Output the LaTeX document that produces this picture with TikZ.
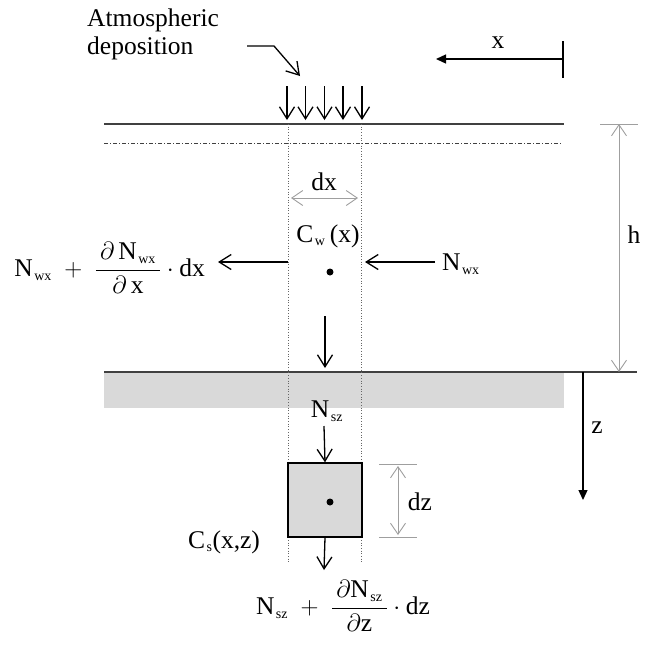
\documentclass[tikz,border=0pt]{standalone}
\usepackage{amsmath}
\usepackage{fontspec}
\setmainfont{Liberation Serif}
\DeclareMathSizes{25.5}{25.5}{14}{11}
\newcommand{\sub}[1]{_{\kern1.5pt\text{#1}}}
\usetikzlibrary{arrows.meta}

\begin{document}
\begin{tikzpicture}[
  x=1pt, y=-1pt,
  font=\fontsize{25.5}{28}\selectfont,
  flux/.style={-{Straight Barb[length=12pt,width=15pt]}, line width=1.3pt},
  axis/.style={-{Triangle[length=10pt,width=9pt]}, line width=1.3pt},
  dim/.style={{Straight Barb[length=11pt,width=15pt]}-{Straight Barb[length=11pt,width=15pt]}, draw=gray!75, line width=0.9pt},
  tick/.style={draw=gray!75, line width=0.9pt},
  level/.style={draw=black!75, line width=1.1pt},
  column/.style={draw=gray!80!black, dotted, line width=0.7pt},
  lbl/.style={inner sep=1pt}
]
\useasboundingbox (0,0) rectangle (649,649);

% water column and sediment
\fill[gray!30] (104,372) rectangle (564,408);
\coordinate (surfL) at (104,124);  \coordinate (surfR) at (564,124);
\coordinate (mixL) at (104,143);   \coordinate (mixR) at (562,143);
\coordinate (bedL) at (104,372);   \coordinate (bedR) at (637,372);
\draw[level] (surfL) -- (surfR);
\draw[level, line width=0.8pt, dash pattern=on 4pt off 2pt on 1pt off 2pt] (mixL) -- (mixR);
\draw[level] (bedL) -- (bedR);

% column borders
\coordinate (colLt) at (288,124);  \coordinate (colLb) at (288,563);
\coordinate (colRt) at (361,124);  \coordinate (colRb) at (361,563);
\draw[column] (colLt) -- (colLb);
\draw[column] (colRt) -- (colRb);

% atmospheric deposition
\node[lbl, align=left, anchor=west] (deplbl) at (86,34) {Atmospheric\\deposition};
\coordinate (dep0) at (247,46);
\coordinate (dep1) at (274,46);
\coordinate (dep2) at (300,76);
\draw[flux] (dep0) -- (dep1) -- (dep2);
\foreach \i/\xx in {1/287,2/305.5,3/324.5,4/343,5/362}{
  \coordinate (rain\i) at (\xx,86);
  \coordinate (drop\i) at (\xx,120);
  \draw[flux] (rain\i) -- (drop\i);
}

% x axis
\coordinate (xo) at (563,59);  \coordinate (xe) at (436,59);
\coordinate (xt1) at (563,41); \coordinate (xt2) at (563,78);
\draw[line width=1.3pt] (xt1) -- (xt2);
\draw[axis] (xo) -- (xe);
\node[lbl] (xlbl) at (498,43) {x};

% depth h
\coordinate (ht1) at (600,124); \coordinate (ht2) at (638,124);
\coordinate (htop) at (619,124); \coordinate (hbot) at (619,372);
\draw[tick] (ht1) -- (ht2);
\draw[dim] (htop) -- (hbot);
\node[lbl] (hlbl) at (634,235) {h};

% z axis
\coordinate (zo) at (583,372); \coordinate (ze) at (583,500);
\draw[axis] (zo) -- (ze);
\node[lbl] (zlbl) at (597,428) {z};

% width dx
\coordinate (dxL) at (291,198); \coordinate (dxR) at (358,198);
\draw[dim] (dxL) -- (dxR);
\node[lbl] (dxlbl) at (324,182) {dx};

% water concentration and lateral fluxes
\node[lbl] (cw) at (328,236) {C$\sub{w}$\,(x)};
\node[circle, fill, inner sep=0pt, minimum size=7pt] (cwdot) at (330,272) {};
\coordinate (inR) at (435,262);  \coordinate (inRe) at (365,262);
\coordinate (outL) at (288,262); \coordinate (outLe) at (218,262);
\draw[flux] (inR) -- (inRe);
\draw[flux] (outL) -- (outLe);
\node[lbl, anchor=west] (nwx) at (441,264) {N$\sub{wx}$};
\node[lbl, anchor=east] (nwxout) at (206,268)
  {$\text{N}\sub{wx}\;+\;\dfrac{\,\partial\,\text{N}\sub{wx}\,}{\partial\,\text{x}}\cdot\text{dx}$};

% settling to the bed
\coordinate (set1) at (325,316); \coordinate (set2) at (325,368);
\draw[flux] (set1) -- (set2);

% sediment cell
\node[lbl] (nsz) at (327,411) {N$\sub{sz}$};
\node[draw, fill=gray!30, line width=1.3pt, minimum size=74pt, inner sep=0pt] (cell) at (325,500) {};
\node[circle, fill, inner sep=0pt, minimum size=7pt] (csdot) at (330,502) {};
\coordinate (szin) at (324,426);
\draw[flux] (szin) -- (cell.north);
\coordinate (szout) at (324,570);
\draw[flux] (cell.south) -- (szout);
\node[lbl] (cs) at (224,542) {C$\sub{s}$(x,z)};

% thickness dz
\coordinate (dzt1) at (379,464); \coordinate (dzt2) at (417,464);
\coordinate (dzb1) at (379,537); \coordinate (dzb2) at (417,537);
\coordinate (dztop) at (398,466); \coordinate (dzbot) at (398,535);
\draw[tick] (dzt1) -- (dzt2);
\draw[tick] (dzb1) -- (dzb2);
\draw[dim] (dztop) -- (dzbot);
\node[lbl] (dzlbl) at (420,502) {dz};

\node[lbl] (nszout) at (343,606)
  {$\text{N}\sub{sz}\;+\;\dfrac{\,\partial\text{N}\sub{sz}\,}{\partial\text{z}}\cdot\text{dz}$};

\end{tikzpicture}
\end{document}
